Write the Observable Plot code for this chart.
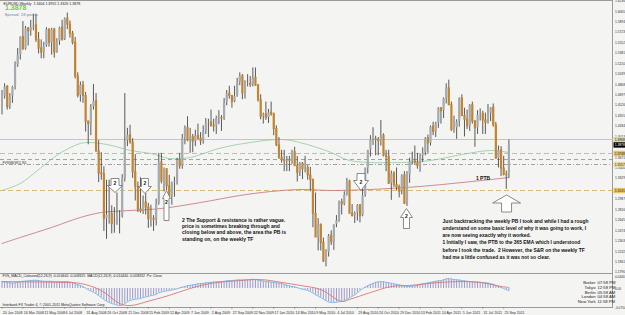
<!DOCTYPE html>
<html><head><meta charset="utf-8">
<script src="https://cdn.jsdelivr.net/npm/d3@7"></script>
<script src="https://cdn.jsdelivr.net/npm/@observablehq/plot@0.6"></script>
<style>
html,body{margin:0;padding:0;background:#fff}
#chart{position:relative;width:625px;height:315px;background:#f4f4f2;overflow:hidden}
#chart svg{position:absolute;left:0}
.frame{position:absolute;box-sizing:border-box;border-color:#9a9a9a;border-style:solid}
</style></head><body>
<div id="chart">
<div class="frame" style="left:-1px;top:0;width:614px;height:274px;border-width:1px 1px 1px 0"></div>
<div class="frame" style="left:-1px;top:273px;width:614px;height:35px;border-width:0 1px 1px 0"></div>
</div>
<script>
// ---------- weekly EURUSD candles (bar index 0 = week of 20 Jan 2008) ----------
const opens = [
1.466,1.467,1.483,1.450,1.467,1.483,1.518,1.535,1.565,1.544,
1.579,1.574,1.581,1.584,1.560,1.546,1.539,1.550,1.577,1.555,
1.577,1.539,1.557,1.580,1.560,1.595,1.585,1.570,1.555,1.500,
1.468,1.486,1.468,1.426,1.422,1.450,1.460,1.377,1.341,1.340,
1.266,1.274,1.275,1.258,1.259,1.270,1.271,1.332,1.394,1.404,
1.392,1.343,1.319,1.282,1.279,1.294,1.285,1.266,1.267,1.265,
1.292,1.359,1.328,1.348,1.320,1.303,1.326,1.327,1.363,1.353,
1.399,1.416,1.395,1.401,1.393,1.403,1.398,1.394,1.410,1.423,
1.425,1.419,1.418,1.432,1.432,1.431,1.457,1.472,1.468,1.458,
1.468,1.490,1.501,1.472,1.486,1.488,1.486,1.498,1.485,1.461,
1.434,1.438,1.432,1.441,1.438,1.414,1.387,1.367,1.363,1.361,
1.363,1.362,1.376,1.353,1.342,1.357,1.348,1.350,1.338,1.330,
1.275,1.236,1.257,1.227,1.197,1.211,1.239,1.228,1.257,1.264,
1.294,1.290,1.306,1.328,1.275,1.271,1.276,1.289,1.271,1.305,
1.349,1.379,1.397,1.397,1.396,1.394,1.403,1.370,1.368,1.324,
1.341,1.322,1.318,1.311,1.338,1.291,1.338,1.361,1.361,1.359,
1.353,1.369,1.375,1.399,1.390,1.418,1.409,1.423,1.448,1.443,
1.464,1.481,1.453,1.412,1.415,1.426,1.464,1.435,1.429,1.418,
1.453,1.426,1.415,1.437,1.439,1.428,1.424,1.439,1.449,1.420,
1.365,1.379,1.349,1.339,1.340];
const highs = [
1.477,1.488,1.485,1.472,1.484,1.524,1.546,1.565,1.590,1.582,
1.580,1.592,1.602,1.602,1.572,1.560,1.556,1.580,1.578,1.579,
1.579,1.562,1.581,1.592,1.596,1.604,1.591,1.574,1.564,1.506,
1.491,1.492,1.474,1.427,1.454,1.487,1.472,1.395,1.375,1.352,
1.330,1.330,1.288,1.285,1.309,1.280,1.339,1.472,1.415,1.420,
1.398,1.372,1.327,1.334,1.304,1.308,1.292,1.289,1.272,1.299,
1.374,1.374,1.350,1.349,1.338,1.327,1.335,1.366,1.374,1.405,
1.419,1.434,1.415,1.405,1.412,1.422,1.408,1.419,1.431,1.430,
1.445,1.430,1.435,1.444,1.436,1.464,1.477,1.484,1.469,1.484,
1.497,1.506,1.503,1.493,1.503,1.500,1.514,1.514,1.487,1.470,
1.440,1.458,1.446,1.458,1.440,1.419,1.400,1.379,1.379,1.369,
1.369,1.379,1.384,1.369,1.359,1.359,1.369,1.354,1.351,1.332,
1.309,1.267,1.258,1.235,1.216,1.241,1.247,1.257,1.272,1.296,
1.299,1.311,1.333,1.330,1.290,1.278,1.290,1.290,1.316,1.350,
1.379,1.403,1.416,1.402,1.400,1.428,1.406,1.379,1.379,1.345,
1.344,1.350,1.322,1.339,1.344,1.344,1.366,1.376,1.386,1.374,
1.372,1.383,1.400,1.404,1.419,1.425,1.425,1.449,1.449,1.465,
1.488,1.494,1.458,1.435,1.429,1.465,1.470,1.448,1.445,1.454,
1.458,1.428,1.444,1.447,1.443,1.440,1.454,1.449,1.455,1.425,
1.386,1.385,1.369,1.345,1.396];
const lows = [
1.437,1.463,1.445,1.446,1.456,1.478,1.515,1.527,1.544,1.543,
1.550,1.566,1.575,1.556,1.537,1.529,1.529,1.548,1.548,1.535,
1.530,1.538,1.551,1.558,1.559,1.577,1.563,1.552,1.496,1.465,
1.458,1.456,1.409,1.388,1.403,1.445,1.376,1.326,1.330,1.246,
1.233,1.258,1.242,1.243,1.256,1.242,1.268,1.327,1.385,1.389,
1.333,1.296,1.277,1.276,1.274,1.273,1.251,1.253,1.246,1.255,
1.289,1.324,1.311,1.313,1.301,1.289,1.302,1.322,1.348,1.348,
1.388,1.393,1.374,1.375,1.385,1.396,1.387,1.389,1.405,1.400,
1.417,1.409,1.405,1.421,1.410,1.428,1.452,1.463,1.448,1.457,
1.466,1.485,1.462,1.463,1.483,1.482,1.483,1.484,1.458,1.429,
1.422,1.428,1.423,1.435,1.403,1.385,1.364,1.358,1.344,1.344,
1.344,1.356,1.353,1.327,1.336,1.331,1.342,1.330,1.311,1.252,
1.236,1.214,1.214,1.195,1.188,1.204,1.223,1.215,1.252,1.261,
1.273,1.288,1.304,1.275,1.270,1.259,1.263,1.260,1.270,1.302,
1.340,1.368,1.387,1.370,1.370,1.386,1.368,1.344,1.323,1.297,
1.318,1.313,1.301,1.306,1.290,1.287,1.325,1.355,1.356,1.348,
1.343,1.359,1.370,1.374,1.386,1.403,1.400,1.415,1.422,1.431,
1.455,1.452,1.410,1.407,1.397,1.417,1.435,1.401,1.413,1.410,
1.422,1.384,1.405,1.427,1.405,1.405,1.422,1.426,1.417,1.365,
1.350,1.336,1.337,1.315,1.333];
const closes = [
1.467,1.483,1.450,1.467,1.483,1.518,1.535,1.565,1.544,1.579,
1.574,1.581,1.584,1.560,1.546,1.539,1.550,1.577,1.555,1.577,
1.539,1.557,1.580,1.560,1.595,1.585,1.570,1.555,1.500,1.468,
1.486,1.468,1.426,1.422,1.450,1.460,1.377,1.341,1.340,1.266,
1.274,1.275,1.258,1.259,1.270,1.271,1.332,1.394,1.404,1.392,
1.343,1.319,1.282,1.279,1.294,1.285,1.266,1.267,1.265,1.292,
1.359,1.328,1.348,1.320,1.303,1.326,1.327,1.363,1.353,1.399,
1.416,1.395,1.401,1.393,1.403,1.398,1.394,1.410,1.423,1.425,
1.419,1.418,1.432,1.432,1.431,1.457,1.472,1.468,1.458,1.468,
1.490,1.501,1.472,1.486,1.488,1.486,1.498,1.485,1.461,1.434,
1.438,1.432,1.441,1.438,1.414,1.387,1.367,1.363,1.361,1.363,
1.362,1.376,1.353,1.342,1.357,1.348,1.350,1.338,1.330,1.275,
1.236,1.257,1.227,1.197,1.211,1.239,1.228,1.257,1.264,1.294,
1.290,1.306,1.328,1.275,1.271,1.276,1.289,1.271,1.305,1.349,
1.379,1.397,1.397,1.396,1.394,1.403,1.370,1.368,1.324,1.341,
1.322,1.318,1.311,1.338,1.291,1.338,1.361,1.361,1.359,1.353,
1.369,1.375,1.399,1.390,1.418,1.409,1.423,1.448,1.443,1.464,
1.481,1.453,1.412,1.415,1.426,1.464,1.435,1.429,1.418,1.453,
1.426,1.415,1.437,1.439,1.428,1.424,1.439,1.449,1.420,1.365,
1.379,1.349,1.339,1.338,1.388];

// ---------- moving averages ----------
const greenBars = [0,7,15,22,30,34,42,49,57,64,72,83,95,107,114,126,133,153,164,176,187,194];
const greenVals = [1.3131,1.3246,1.3508,1.3738,1.3902,1.3918,1.3869,1.3787,1.3738,1.3656,1.3672,1.3820,1.3918,1.3967,1.3918,1.3754,1.3623,1.3590,1.3623,1.3721,1.3787,1.3754];
const pinkBars = [0,7,19,30,38,49,61,76,91,103,114,126,141,160,176,187,194];
const pinkVals = [1.2262,1.2361,1.2525,1.2689,1.2770,1.2803,1.2836,1.2934,1.3049,1.3115,1.3148,1.3131,1.3148,1.3197,1.3262,1.3311,1.3344];

// ---------- horizontal levels ----------
const levelSolid = [1.3967];
const levelGold = [1.3738, 1.3131];
const levelBrown = [1.3639];
const levelDashDot = [1.3557];

// ---------- axis labels ----------
const priceTicks = [1.6236,1.6065,1.5894,1.5723,1.5552,1.5381,1.5210,1.5039,1.4868,1.4697,1.4526,1.4355,1.4184,1.4013,1.3671,1.3500,1.3329,1.2987,1.2816,1.2645,1.2474,1.2303,1.2132,1.1961,1.1790];
const boxPrices = [1.3967, 1.3878, 1.3738, 1.3557, 1.3131];
const boxTexts = ["1.3968", "1.3878", "1.3738", "1.3557", "1.3131"];
const dateBars = [0,8,16,24,32,40,48,56,64,72,80,88,96,104,112,120,128,136,144,152,160,168,176,184,192];
const dateLabels = ["20 Jan 2008","16 Mar 2008","11 May 2008","6 Jul 2008","31 Aug 2008","26 Oct 2008","21 Dec 2008","15 Feb 2009","12 Apr 2009","7 Jun 2009","2 Aug 2009","27 Sep 2009","22 Nov 2009","17 Jan 2010","14 Mar 2010","9 May 2010","4 Jul 2010","29 Aug 2010","24 Oct 2010","19 Dec 2010","13 Feb 2011","10 Apr 2011","5 Jun 2011","31 Jul 2011","25 Sep 2011"];

// ---------- MACD (thousandths) ----------
const macdHist = [
27,26,24,22,21,22,24,26,28,29,30,31,
32,32,31,29,28,28,28,28,27,27,27,
27,27,27,25,23,19,15,12,
7,1,-5,-10,-14,-21,-28,-35,
-43,-50,-55,-59,-62,-65,-67,-66,-59,
-52,-47,-44,-42,-41,-39,-36,-33,-31,-28,
-26,-23,-17,-14,-11,-9,-8,
-6,-4,-1,2,5,8,11,12,
14,16,18,19,20,22,23,24,
25,26,27,27,28,30,31,
31,32,33,34,33,34,34,35,
36,35,33,31,29,27,26,25,24,22,21,20,
16,13,10,8,6,3,0,
-3,-5,-8,-12,-18,-25,-30,-35,
-42,-48,-53,-55,-55,-54,-52,-51,
-47,-42,-37,-31,-25,-17,-8,
-1,5,11,16,20,24,26,27,
26,24,22,20,18,16,14,12,
10,9,8,9,10,12,16,
18,20,22,24,26,28,30,31,
34,37,39,37,35,34,33,31,
30,28,27,26,25,25,24,
23,22,21,19,16,12,8,4,
0,-5,-8];
const sigBars = [0,22,30,38,45,49,57,64,72,80,91,99,107,114,122,130,133,141,149,156,168,176,183,191,194];
const sigVals = [27,24,20,-8,-59,-67,-47,-27,0,20,31,35,24,12,-4,-51,-43,-16,8,12,24,27,24,8,4];
const macdTicks = [44.6, 0, -75.4];
const macdTickTexts = ["0.0446", "0.00", "-0.0754"];

// ---------- annotations ----------
const arrowBars = [43.25, 54.7, 62.95, 137.4, 154.8, 193.1];
const arrowPrices = [1.3213, 1.3205, 1.2885, 1.3270, 1.2672, 1.2918];
const arrowDirs = ["down","down","up","down","up","up"];
const arrowTexts = ["2","2","2","2","2",""];
const note1 = "2 The Support & resistance is rather vague.\nprice is sometimes breaking through and\nclosing below and above, the area the PB is\nstanding on, on the weekly TF";
const note2 = "Just backtracking the weekly PB I took and while I had a rough\nunderstand on some basic level of why it was going to work, I\nare now seeing exactly why it worked.\n1 Initially I saw, the PTB to the 365 EMA which I understood\nbefore I took the trade.  2 However, the S&R on the weekly TF\nhad me a little confused as it was not so clear.";
const note1Pos = [{i: 68.9, p: 1.2697, t: note1}];
const note2Pos = [{i: 168.6, p: 1.2689, t: note2}];
const ptb = [{i: 184.1, p: 1.3328, t: "1 PTB"}];
const clockNames = ["Broker","Tokyo","Berlin","London","New York"];
const clockTimes = ["07:58 PM","12:58 PM","05:58 AM","04:58 AM","11:58 PM"];

// ---------- build ----------
const bars = opens.map((o, i) => ({i, o, h: highs[i], l: lows[i], c: closes[i]}));
const green = greenBars.map((i, k) => ({i, p: greenVals[k]}));
const pink = pinkBars.map((i, k) => ({i, p: pinkVals[k]}));
const hist = macdHist.map((v, i) => ({i, v}));
const sig = sigBars.map((i, k) => ({i, v: sigVals[k]}));

// shape sizes: [head width, head height, shaft width, shaft height]
const arrowSizes = [[15,7,8,7],[13,7,7,8],[8,8,5,22],[15,10,8,7],[12,9,6,11],[28,8,10,9]];
const arrowLabelDy = [-2,-3,-3,0,-2,0];
function arrowShape(dir, hw, hh, sw, sh) {
  return {draw(ctx) {
    const t = -(hh + sh) / 2, s = dir === "up" ? 1 : -1;
    const pts = [[0,t],[hw/2,t+hh],[sw/2,t+hh],[sw/2,t+hh+sh],[-sw/2,t+hh+sh],[-sw/2,t+hh],[-hw/2,t+hh]];
    pts.forEach(([px, py], k) => k ? ctx.lineTo(px, s*py) : ctx.moveTo(px, s*py));
    ctx.closePath();
  }};
}
const boxShape = {draw(ctx) { ctx.rect(-6, -2.7, 12, 5.4); }};
const boxFills = ["#e4d7a6", "#000000", "#e6c467", "#ead9a8", "#e6c467"];
const boxInk = ["#222", "#fff", "#222", "#222", "#222"];

const font = "'Liberation Sans', Arial, sans-serif";
const noteFont = "'Liberation Sans Narrow', 'Liberation Sans', Arial, sans-serif";
const xs = {domain: [0, 194], range: [1.5, 508.4], axis: null};
const base = {width: 625, marginLeft: 0, marginRight: 12, marginTop: 0, marginBottom: 0,
  style: {background: "transparent", overflow: "visible", fontFamily: font}};

const arrowMarks = [];
arrowBars.forEach((i, k) => {
  const [hw, hh, sw, sh] = arrowSizes[k];
  const d = [{i, p: arrowPrices[k], t: arrowTexts[k]}];
  arrowMarks.push(Plot.dot(d, {x: "i", y: "p", r: 3, symbol: arrowShape(arrowDirs[k], hw, hh, sw, sh), fill: "#ffffff", stroke: "#6f6f6f", strokeWidth: 0.8}));
  arrowMarks.push(Plot.text(d, {x: "i", y: "p", text: "t", dy: arrowLabelDy[k], fontSize: 5, fontWeight: "bold", fill: "#111"}));
});

const main = Plot.plot({
  ...base, height: 273,
  x: xs,
  y: {domain: [1.17869, 1.62459], range: [272, 0], axis: null},
  marks: [
    Plot.ruleY(levelSolid, {y: d => d, stroke: "#d6c690", strokeWidth: 1}),
    Plot.ruleY(levelGold, {y: d => d, stroke: "#d7b65c", strokeWidth: 0.9, strokeDasharray: "5,3"}),
    Plot.ruleY(levelBrown, {y: d => d, stroke: "#b08070", strokeWidth: 0.8, strokeDasharray: "4,3"}),
    Plot.ruleY(levelDashDot, {y: d => d, stroke: "#8a8a8a", strokeWidth: 0.8, strokeDasharray: "4,2,1,2"}),
    Plot.text(["FVSSB(W1) R/L"], {y: 1.3578, frameAnchor: "left", textAnchor: "start", dx: 2, fontSize: 3.4, fill: "#333"}),
    Plot.line(green, {x: "i", y: "p", stroke: "#93c9a6", strokeWidth: 0.8, curve: "catmull-rom"}),
    Plot.line(pink, {x: "i", y: "p", stroke: "#c77f86", strokeWidth: 0.9, curve: "catmull-rom"}),
    Plot.ruleX(bars, {x: "i", y1: "l", y2: "h", stroke: "#474747", strokeWidth: 0.9}),
    Plot.ruleX(bars.filter(b => b.c >= b.o), {x: "i", y1: "o", y2: "c", stroke: "#a5aaaf", strokeWidth: 2.2, insetTop: -0.5, insetBottom: -0.5}),
    Plot.ruleX(bars.filter(b => b.c < b.o), {x: "i", y1: "o", y2: "c", stroke: "#c4842f", strokeWidth: 2.2, insetTop: -0.5, insetBottom: -0.5}),
    ...arrowMarks,
    Plot.text(note1Pos, {x: "i", y: "p", text: "t", textAnchor: "start", lineAnchor: "top", fontSize: 5.0, lineHeight: 1.28, fontWeight: "bold", fill: "#111", fontFamily: noteFont}),
    Plot.text(note2Pos, {x: "i", y: "p", text: "t", textAnchor: "start", lineAnchor: "top", fontSize: 4.9, lineHeight: 1.48, fontWeight: "bold", fill: "#111", fontFamily: noteFont}),
    Plot.text(ptb, {x: "i", y: "p", text: "t", fontSize: 5, fontWeight: "bold", fill: "#111"}),
    Plot.text(["EURUSD,Weekly  1.3404 1.3955 1.3326 1.3878"], {frameAnchor: "top-left", dx: 3, dy: 1.5, lineAnchor: "top", fontSize: 3.6, fill: "#222"}),
    Plot.text(["1.3878"], {frameAnchor: "top-left", dx: 4.5, dy: 5, lineAnchor: "top", fontSize: 7, fontWeight: "bold", fill: "#6ccf36"}),
    Plot.text(["Spread: 18 points"], {frameAnchor: "top-left", dx: 4, dy: 12, lineAnchor: "top", fontSize: 4.3, fill: "#6a8cb0"}),
    Plot.text(priceTicks, {y: d => d, text: d => d.toFixed(4), frameAnchor: "right", textAnchor: "start", dx: 1.4, fontSize: 3.3, fill: "#333"}),
    ...boxPrices.map((p, k) => Plot.dot([p], {y: d => d, frameAnchor: "right", dx: 6, r: 3, symbol: boxShape, fill: boxFills[k], stroke: "none"})),
    ...boxPrices.map((p, k) => Plot.text([p], {y: d => d, text: () => boxTexts[k], frameAnchor: "right", textAnchor: "start", dx: 1.2, fontSize: 3.3, fill: boxInk[k]}))
  ]
});

const macd = Plot.plot({
  ...base, height: 42,
  x: xs,
  y: {domain: [-74.5, 58.8], range: [34, 0], axis: null},
  marks: [
    Plot.ruleX(hist, {x: "i", y1: 0, y2: "v", stroke: "#8583c4", strokeWidth: 0.8}),
    Plot.line(hist, {x: "i", y: "v", stroke: "#7fb4e6", strokeWidth: 0.9}),
    Plot.line(sig, {x: "i", y: "v", stroke: "#d77878", strokeWidth: 0.9, curve: "catmull-rom"}),
    Plot.text(["FVS_MACD_Coloured(12,26,9) -0.014640 -0.008325  MACD(12,26,9) -0.010440 -0.008332  Px: Close"], {frameAnchor: "top-left", dx: 2, dy: 1.2, lineAnchor: "top", fontSize: 3.5, fill: "#222"}),
    Plot.text(["Interbank FX Trader 4, \u00a9 2001-2011 MetaQuotes Software Corp."], {frameAnchor: "top-left", dx: 2, dy: 30, lineAnchor: "top", fontSize: 3.6, fill: "#222"}),
    Plot.text([clockNames.join("\n")], {frameAnchor: "top-right", dx: -18, dy: 7, lineAnchor: "top", textAnchor: "end", fontSize: 4.2, lineHeight: 1.15, fill: "#222"}),
    Plot.text([clockTimes.join("\n")], {frameAnchor: "top-right", dx: -16, dy: 7, lineAnchor: "top", textAnchor: "start", fontSize: 4.2, lineHeight: 1.15, fill: "#222"}),
    Plot.text(macdTicks, {y: d => d, text: (d, k) => macdTickTexts[k], frameAnchor: "right", textAnchor: "start", dx: 1.4, fontSize: 3.2, fill: "#333"}),
    Plot.ruleX(dateBars, {x: d => d, y1: -74.6, y2: -81, stroke: "#777", strokeWidth: 0.7}),
    Plot.text(dateBars, {x: d => d, text: (d, k) => dateLabels[k], frameAnchor: "bottom", textAnchor: "start", lineAnchor: "bottom", dx: 0.8, dy: -1.5, fontSize: 3.6, fill: "#333"})
  ]
});

const chart = document.getElementById("chart");
main.style.top = "0px";
macd.style.top = "273px";
chart.appendChild(main);
chart.appendChild(macd);
</script></body></html>
